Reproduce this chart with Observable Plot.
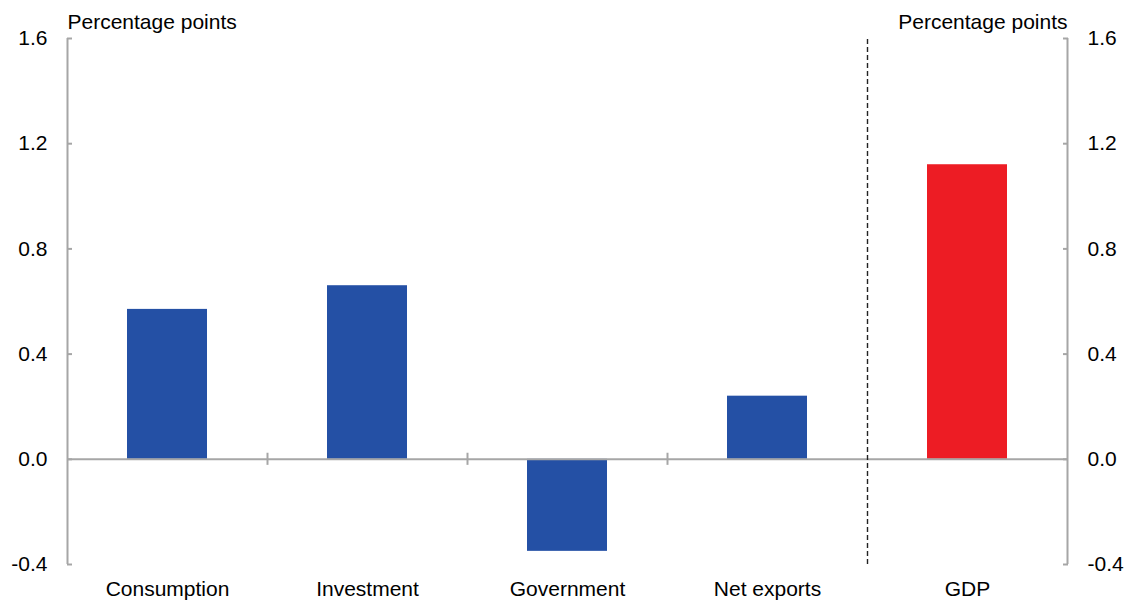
<!DOCTYPE html>
<html>
<head>
<meta charset="utf-8">
<script src="https://cdn.jsdelivr.net/npm/d3@7"></script>
<script src="https://cdn.jsdelivr.net/npm/@observablehq/plot@0.6"></script>
<style>
  html, body { margin: 0; padding: 0; background: #fff; }
  #chart svg { display: block; }
</style>
</head>
<body>
<div id="chart"></div>
<script>
const categories = ["Consumption", "Investment", "Government", "Net exports", "GDP"];
const values = [0.57, 0.66, -0.35, 0.24, 1.12];
const barColors = ["#2450A5", "#2450A5", "#2450A5", "#2450A5", "#ED1C24"];
const yTicks = [-0.4, 0.0, 0.4, 0.8, 1.2, 1.6];
const axisLabel = "Percentage points";

const data = categories.map((c, i) => ({cat: c, val: values[i], color: barColors[i]}));
const gray = "#A6A6A6";
const step = (1130 - 67 - 63) / categories.length;
const fmt = d => d.toFixed(1);

const chart = Plot.plot({
  width: 1130,
  height: 601,
  marginLeft: 67,
  marginRight: 63,
  marginTop: 38,
  marginBottom: 37,
  style: {fontFamily: "'Liberation Sans', Arial, sans-serif", background: "#fff", color: "#000"},
  x: {domain: categories, paddingInner: 0.6, paddingOuter: 0.3, axis: null, label: null},
  y: {domain: [-0.4, 1.6], axis: null, label: null},
  marks: [
    Plot.barY(data, {x: "cat", y: "val", fill: "color"}),
    // zero line
    Plot.ruleY([0], {stroke: gray, strokeWidth: 2}),
    // left and right axis lines
    Plot.ruleX([categories[0]], {y1: yTicks[0], y2: yTicks[yTicks.length - 1], dx: -step / 2, stroke: gray, strokeWidth: 2}),
    Plot.ruleX([categories[categories.length - 1]], {y1: yTicks[0], y2: yTicks[yTicks.length - 1], dx: step / 2, stroke: gray, strokeWidth: 2}),
    // category separator ticks on the zero line
    Plot.ruleX(categories.slice(1, 4), {y1: -0.023, y2: 0.023, dx: -step / 2, stroke: gray, strokeWidth: 2}),
    // dashed divider before GDP
    Plot.ruleX(["GDP"], {y1: yTicks[0], y2: yTicks[yTicks.length - 1], dx: -step / 2, stroke: "#222", strokeWidth: 1.4, strokeDasharray: "5,3"}),
    // y axes
    Plot.axisY(yTicks, {anchor: "left", label: null, tickSize: 5, dx: 5, tickPadding: 20, tickFormat: fmt, fontSize: 21, stroke: gray, strokeWidth: 2, fill: "#000"}),
    Plot.axisY(yTicks, {anchor: "right", label: null, tickSize: 5, dx: -5, tickPadding: 20, tickFormat: fmt, fontSize: 21, stroke: gray, strokeWidth: 2, fill: "#000"}),
    // x axis labels
    Plot.axisX({anchor: "bottom", label: null, tickSize: 0, tickPadding: 17, fontSize: 21, fill: "#000"}),
    // unit labels
    Plot.text([axisLabel], {frameAnchor: "top-left", dy: -24, text: d => d, fontSize: 21, fill: "#000"}),
    Plot.text([axisLabel], {frameAnchor: "top-right", dy: -24, text: d => d, fontSize: 21, fill: "#000"})
  ]
});
document.getElementById("chart").append(chart);
</script>
</body>
</html>
